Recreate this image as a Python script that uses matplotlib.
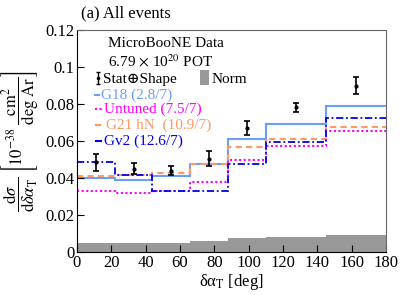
import matplotlib
matplotlib.use("Agg")
import matplotlib.pyplot as plt
import numpy as np

plt.rcParams['font.family'] = ['Liberation Serif', 'DejaVu Serif']
plt.rcParams['mathtext.fontset'] = 'stix'

bin_edges = [0, 22, 44, 66, 88, 110, 145, 180]
data_x = [11, 33, 55, 77, 99, 127.5, 162.5]
data_y = [0.0485, 0.0450, 0.0440, 0.0505, 0.0670, 0.0782, 0.0900]
data_err = [0.0045, 0.0030, 0.0025, 0.0040, 0.0040, 0.0025, 0.0045]

g18 = [0.0398, 0.0391, 0.0412, 0.0477, 0.0611, 0.0694, 0.0788]
untuned = [0.0327, 0.0319, 0.0332, 0.0380, 0.0497, 0.0574, 0.0656]
g21hn = [0.0410, 0.0416, 0.0428, 0.0475, 0.0568, 0.0609, 0.0674]
gv2 = [0.0485, 0.0415, 0.0332, 0.0331, 0.0474, 0.0592, 0.0722]
norm = [0.0048, 0.0048, 0.0051, 0.0058, 0.0074, 0.0082, 0.0093]

fig = plt.figure(figsize=(4.07, 2.95), dpi=100)
ax = fig.add_axes([0.189, 0.146, 0.759, 0.752])

# Norm band
ax.stairs(norm, bin_edges, fill=True, color='#999999', linewidth=0)

def step(vals, **kw):
    ax.stairs(vals, bin_edges, baseline=None, **kw)

step(g18, color='#6a9dff', lw=1.5, linestyle='-')
step(untuned, color='#ff00ff', lw=1.5, linestyle=(0, (1, 1.2)))
step(g21hn, color='#ff9966', lw=1.5, linestyle=(0, (3, 2)))
step(gv2, color='#0000ee', lw=1.3, linestyle=(0, (4, 1.5, 1, 1.5)))

ax.errorbar(data_x, data_y, yerr=data_err, fmt='o', color='black', ms=2,
            capsize=2, elinewidth=1.2, capthick=1.2)

ax.set_xlim(0, 180)
ax.set_ylim(0, 0.12)
ax.set_xticks(np.arange(0, 181, 20))
ax.set_yticks([0, 0.02, 0.04, 0.06, 0.08, 0.1, 0.12])
ax.set_yticklabels(['0', '0.02', '0.04', '0.06', '0.08', '0.1', '0.12'])
ax.tick_params(direction='in', length=5, labelsize=12, pad=2)
for s in ['top', 'right']:
    ax.spines[s].set_color('#666666')

ax.set_xlabel('δα$_{\\mathrm{T}}$ [deg]', fontsize=12, labelpad=1)
ax.set_ylabel(r'$\dfrac{\mathrm{d}\sigma}{\mathrm{d}\delta\alpha_{\mathrm{T}}}\ \left[10^{-38}\ \dfrac{\mathrm{cm}^{2}}{\mathrm{deg\ Ar}}\right]$',
              fontsize=12, labelpad=2)

fig.text(0.2, 0.942, '(a) All events', fontsize=12, ha='left', va='baseline')

tr = ax.transAxes
fs = 11
ax.text(0.1, 0.923, 'MicroBooNE Data', fontsize=fs, transform=tr, va='baseline')
ax.text(0.1, 0.835, r'6.79 $\times$ 10$^{20}$ POT', fontsize=fs, transform=tr, va='baseline')
# Stat+Shape handle
ax.errorbar([0.067], [0.785], yerr=[0.028], fmt='o', color='black', ms=1.5,
            capsize=1.5, elinewidth=1, transform=tr)
ax.text(0.083, 0.763, 'Stat⊕Shape', fontsize=fs, transform=tr, va='baseline')
ax.add_patch(plt.Rectangle((0.398, 0.752), 0.03, 0.07, transform=tr,
                           color='#999999', lw=0))
ax.text(0.435, 0.763, 'Norm', fontsize=fs, transform=tr, va='baseline')

entries = [('G18 (2.8/7)', '#6a9dff', '-', 0.072, 0.078),
           ('Untuned (7.5/7)', '#ff00ff', (0, (1, 1.2)), 0.082, 0.088),
           ('G21 hN  (10.9/7)', '#ff9966', (0, (3, 2)), 0.088, 0.094),
           ('Gv2 (12.6/7)', '#0000ee', (0, (4, 1.5, 1, 1.5)), 0.082, 0.088)]
ys = [0.688, 0.625, 0.553, 0.482]
for (lab, c, ls, hx, tx), yy in zip(entries, ys):
    ax.plot([0.058, hx], [yy + 0.02, yy + 0.02], color=c, lw=1.5,
            linestyle=ls, transform=tr)
    ax.text(tx, yy, lab, color=c, fontsize=fs, transform=tr, va='baseline')

fig.savefig('out.png', dpi=100)
